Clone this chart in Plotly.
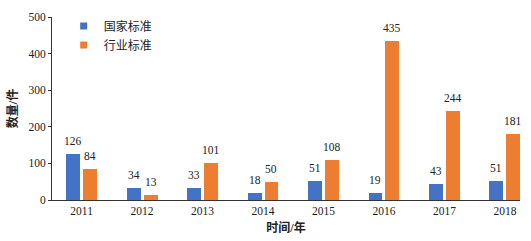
import plotly.graph_objects as go

years = ["2011", "2012", "2013", "2014", "2015", "2016", "2017", "2018"]
national = [126, 34, 33, 18, 51, 19, 43, 51]
industry = [84, 13, 101, 50, 108, 435, 244, 181]
series_names = ["国家标准", "行业标准"]
y_ticks = [0, 100, 200, 300, 400, 500]

FONT = "Liberation Serif, Noto Sans CJK SC"
BLUE = "#4472C4"
ORANGE = "#ED7D31"
W = 0.23

fig = go.Figure()
fig.add_trace(go.Bar(x=years, y=national, name=series_names[0], marker_color=BLUE,
                     width=W, offset=-0.255, marker_line_width=0, showlegend=False))
fig.add_trace(go.Bar(x=years, y=industry, name=series_names[1], marker_color=ORANGE,
                     width=W, offset=0.025, marker_line_width=0, showlegend=False))
# legend entries with small square symbols
for name, col in zip(series_names, [BLUE, ORANGE]):
    fig.add_trace(go.Scatter(x=[None], y=[None], mode="markers", name=name,
                             marker=dict(symbol="square", size=7, color=col)))

annotations = []
for i, yr in enumerate(years):
    for val, shift in ((national[i], -0.14), (industry[i], 0.14)):
        annotations.append(dict(x=i + shift, y=val, xref="x", yref="y", text=str(val),
                                showarrow=False, yanchor="middle", yshift=13,
                                font=dict(family=FONT, size=11.5, color="#222222")))

fig.update_layout(
    width=531, height=241,
    margin=dict(l=52, r=11, t=17, b=41, autoexpand=False),
    plot_bgcolor="white", paper_bgcolor="white",
    font=dict(family=FONT, size=11, color="#222222"),
    showlegend=True,
    legend=dict(x=0.025, y=1.03, xanchor="left", yanchor="top",
                bgcolor="rgba(0,0,0,0)", font=dict(size=12, family=FONT),
                itemwidth=30, tracegroupgap=0, itemsizing="trace"),
    annotations=annotations,
    bargap=0,
)
fig.update_xaxes(type="category", range=[-0.49, 7.25], showline=True, linecolor="#333333",
                 linewidth=1, ticks="", showgrid=False, zeroline=False, automargin=False,
                 title=dict(text="<b>时间/年</b>", font=dict(size=12, family=FONT), standoff=7),
                 tickfont=dict(size=11.5, family=FONT))
fig.update_yaxes(range=[0, 500], tickvals=y_ticks, showline=True, linecolor="#333333",
                 linewidth=1, ticks="outside", ticklen=3, tickcolor="#333333",
                 showgrid=False, zeroline=False, automargin=False,
                 title=dict(text="<b>数量/件</b>", font=dict(size=12, family=FONT), standoff=8),
                 tickfont=dict(size=11.5, family=FONT))

fig.write_html("out.html", config={"displayModeBar": False},
               post_script="document.body.style.margin='0';")
